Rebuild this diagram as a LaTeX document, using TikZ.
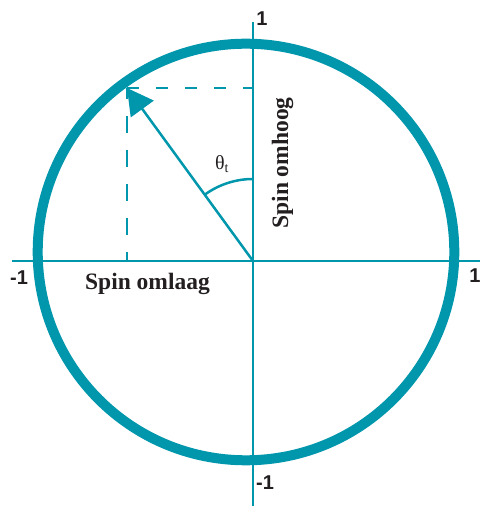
\documentclass[tikz,border=0pt]{standalone}
\usepackage{fontspec}
\setmainfont{Liberation Serif}
\setsansfont{Liberation Sans}
\usetikzlibrary{arrows.meta}
\definecolor{spinteal}{RGB}{0,150,172}
\definecolor{inkt}{RGB}{35,31,32}

\begin{document}
\begin{tikzpicture}[x=1pt,y=1pt,>={Triangle[length=26pt,width=28pt]},
  axis/.style={draw=spinteal,line width=2.5pt},
  getal/.style={font=\sffamily\bfseries\fontsize{20}{24}\selectfont,text=inkt,inner sep=0pt},
  spin/.style={font=\bfseries\fontsize{23.5}{26}\selectfont,text=inkt,inner sep=0pt,anchor=base}]
  \useasboundingbox (0,0) rectangle (480,506);
  \draw[spinteal,line width=10pt] (246,254) circle (208.3);
  \coordinate (O) at (253,245);
  \coordinate (W) at (12,245);
  \coordinate (E) at (480,245);
  \coordinate (N) at (253,484);
  \coordinate (S) at (253,0);
  \coordinate (T) at (127,418);
  \coordinate (Ty) at (253,418);
  \coordinate (Tx) at (127,245);
  \draw[axis] (W) -- (E);
  \draw[axis] (S) -- (N);
  \draw[axis,dash pattern=on 17pt off 17pt,dash phase=8pt] (Tx) -- (T);
  \draw[axis,dash pattern=on 12pt off 17pt] (T) -- (Ty);
  \draw[axis,->] (O) -- (T);
  \draw[axis] (253,327) arc (90:126:82);
  \node[text=inkt] (theta) at (222,342) {\fontsize{20}{22}\selectfont θ\textsubscript{t}};
  \node[getal] (n1) at (262,487) {1};
  \node[getal] (e1) at (475,230) {1};
  \node[getal] (w1) at (19,228) {-1};
  \node[getal] (s1) at (265,23) {-1};
  \node[spin] (omlaag) at (147.5,216) {Spin omlaag};
  \node[spin,rotate=90] (omhoog) at (288,343) {Spin omhoog};
\end{tikzpicture}
\end{document}
